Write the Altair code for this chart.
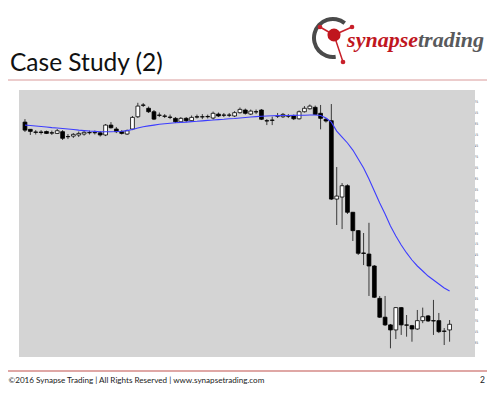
import altair as alt
import pandas as pd

# ---- candle data ----
opens = [1.33991, 1.33945, 1.33928, 1.33928, 1.33931, 1.33923, 1.33919, 1.33930, 1.33899, 1.33902,
         1.33909, 1.33915, 1.33923, 1.33923, 1.33923, 1.33909, 1.33972, 1.33947, 1.33930, 1.33915,
         1.33947, 1.34025, 1.34100, 1.34079, 1.34057, 1.34036, 1.34030, 1.34023, 1.34015, 1.33993,
         1.34015, 1.34000, 1.34025, 1.34025, 1.34027, 1.34017, 1.34042, 1.34036, 1.34036, 1.34030,
         1.34051, 1.34068, 1.34042, 1.34057, 1.34068, 1.34000, 1.34004, 1.34030, 1.34025, 1.34030,
         1.34030, 1.34012, 1.34057, 1.34076, 1.34085, 1.34047, 1.34009, 1.34000, 1.33501, 1.33514,
         1.33586, 1.33417, 1.33300, 1.33158, 1.33151, 1.33075, 1.32869, 1.32749, 1.32700, 1.32668,
         1.32810, 1.32700, 1.32695, 1.32674, 1.32727, 1.32757, 1.32727, 1.32727, 1.32661, 1.32668]
highs = [1.34010, 1.33947, 1.33940, 1.33940, 1.33937, 1.33937, 1.33947, 1.33940, 1.33915, 1.33921,
         1.33931, 1.33934, 1.33937, 1.33937, 1.33934, 1.33979, 1.33991, 1.33960, 1.33940, 1.33944,
         1.34030, 1.34114, 1.34112, 1.34090, 1.34068, 1.34052, 1.34042, 1.34039, 1.34023, 1.34023,
         1.34023, 1.34033, 1.34039, 1.34042, 1.34039, 1.34058, 1.34052, 1.34049, 1.34049, 1.34061,
         1.34084, 1.34077, 1.34071, 1.34071, 1.34074, 1.34010, 1.34026, 1.34049, 1.34049, 1.34042,
         1.34039, 1.34065, 1.34093, 1.34103, 1.34096, 1.34100, 1.34017, 1.34106, 1.33705, 1.33603,
         1.33595, 1.33419, 1.33304, 1.33285, 1.33350, 1.33081, 1.32884, 1.32884, 1.32706, 1.32814,
         1.32814, 1.32763, 1.32700, 1.32795, 1.32810, 1.32763, 1.32859, 1.32776, 1.32680, 1.32731]
lows = [1.33928, 1.33909, 1.33912, 1.33912, 1.33915, 1.33909, 1.33915, 1.33877, 1.33883, 1.33890,
        1.33896, 1.33905, 1.33912, 1.33912, 1.33899, 1.33902, 1.33950, 1.33921, 1.33912, 1.33909,
        1.33940, 1.34017, 1.34087, 1.34049, 1.34004, 1.34023, 1.34017, 1.34010, 1.33985, 1.33988,
        1.33991, 1.33995, 1.34014, 1.34010, 1.34014, 1.34007, 1.34023, 1.34023, 1.34023, 1.34023,
        1.34045, 1.34039, 1.34036, 1.34042, 1.34004, 1.33972, 1.33972, 1.34017, 1.34017, 1.34017,
        1.34004, 1.34007, 1.34052, 1.34071, 1.34036, 1.33945, 1.33988, 1.33495, 1.33336, 1.33310,
        1.33406, 1.33234, 1.33145, 1.33081, 1.32884, 1.32871, 1.32744, 1.32693, 1.32551, 1.32610,
        1.32636, 1.32625, 1.32593, 1.32668, 1.32711, 1.32719, 1.32636, 1.32648, 1.32572, 1.32593]
closes = [1.33940, 1.33932, 1.33926, 1.33925, 1.33919, 1.33921, 1.33936, 1.33888, 1.33898, 1.33913,
          1.33919, 1.33926, 1.33925, 1.33925, 1.33909, 1.33972, 1.33955, 1.33930, 1.33919, 1.33936,
          1.34021, 1.34093, 1.34098, 1.34057, 1.34010, 1.34034, 1.34028, 1.34021, 1.33993, 1.34015,
          1.34000, 1.34021, 1.34023, 1.34024, 1.34025, 1.34047, 1.34030, 1.34035, 1.34035, 1.34051,
          1.34072, 1.34047, 1.34061, 1.34056, 1.34009, 1.33998, 1.34002, 1.34029, 1.34040, 1.34029,
          1.34012, 1.34057, 1.34079, 1.34093, 1.34040, 1.34015, 1.33998, 1.33501, 1.33520, 1.33586,
          1.33417, 1.33300, 1.33156, 1.33155, 1.33075, 1.32876, 1.32749, 1.32700, 1.32668, 1.32810,
          1.32700, 1.32698, 1.32674, 1.32727, 1.32752, 1.32725, 1.32725, 1.32657, 1.32659, 1.32704]
moving_avg = [1.33972, 1.33969, 1.33966, 1.33963, 1.33960, 1.33956, 1.33953, 1.33950, 1.33947, 1.33944,
              1.33940, 1.33937, 1.33934, 1.33932, 1.33930, 1.33930, 1.33930, 1.33931, 1.33933, 1.33937,
              1.33944, 1.33953, 1.33961, 1.33967, 1.33972, 1.33977, 1.33981, 1.33984, 1.33987, 1.33989,
              1.33991, 1.33994, 1.33996, 1.33999, 1.34002, 1.34004, 1.34007, 1.34009, 1.34012, 1.34014,
              1.34017, 1.34020, 1.34023, 1.34026, 1.34028, 1.34030, 1.34031, 1.34032, 1.34033, 1.34033,
              1.34034, 1.34035, 1.34035, 1.34036, 1.34036, 1.34033, 1.34017, 1.33991, 1.33934, 1.33896,
              1.33858, 1.33813, 1.33756, 1.33699, 1.33629, 1.33552, 1.33476, 1.33406, 1.33330, 1.33266,
              1.33209, 1.33158, 1.33113, 1.33075, 1.33043, 1.33011, 1.32986, 1.32960, 1.32935, 1.32916]
price_ticks = [1.34125, 1.34055, 1.33985, 1.33915, 1.33845, 1.33775, 1.33705, 1.33635,
               1.33565, 1.33495, 1.33425, 1.33355, 1.33285, 1.33215, 1.33145, 1.33075,
               1.33005, 1.32935, 1.32865, 1.32795, 1.32725, 1.32655, 1.32585]

title_text = "Case Study (2)"
footer_text = "\u00a92016 Synapse Trading | All Rights Reserved | www.synapsetrading.com"
page_no = "2"

df = pd.DataFrame({"i": list(range(len(opens))), "open": opens, "high": highs,
                   "low": lows, "close": closes, "ma": moving_avg})
one = pd.DataFrame({"k": [0]})

xs = alt.Scale(domain=[-0.18, 79.82], nice=False, zero=False)
ys = alt.Scale(domain=[1.32502, 1.34189], nice=False, zero=False)
price_axis = alt.Axis(
    orient="right", values=price_ticks, format=".5f", title=None, grid=False,
    domainColor="#7a7a7a", domainWidth=1, tickColor="#7a7a7a", tickSize=2,
    labelFontSize=3.6, labelColor="#666666", labelPadding=2, labelFont="DejaVu Sans")

panel = alt.Chart(one).mark_rect(color="#d4d4d4").encode(
    x=alt.value(0), x2=alt.value(456), y=alt.value(-1), y2=alt.value(266))

wicks = alt.Chart(df).mark_rule(color="#3a3a3a", strokeWidth=1).encode(
    x=alt.X("i:Q", scale=xs, axis=None),
    y=alt.Y("low:Q", scale=ys, axis=price_axis),
    y2="high:Q")

bodies = alt.Chart(df).mark_bar(size=3.8, stroke="#000000", strokeWidth=0.8).encode(
    x=alt.X("i:Q", scale=xs, axis=None),
    y=alt.Y("open:Q", scale=ys, axis=price_axis),
    y2="close:Q",
    fill=alt.condition("datum.close < datum.open", alt.value("#000000"), alt.value("#ffffff")))

ma_line = alt.Chart(df).mark_line(color="#3d3dff", strokeWidth=1.1).encode(
    x=alt.X("i:Q", scale=xs, axis=None),
    y=alt.Y("ma:Q", scale=ys, axis=price_axis))

# ---- slide decorations ----
title = alt.Chart(one).mark_text(text=title_text, font="Lato", fontSize=24.5, align="left",
                                 baseline="alphabetic", color="#111111").encode(
    x=alt.value(-9), y=alt.value(-20))
underline = alt.Chart(one).mark_rule(color="#d99a9a", strokeWidth=1).encode(
    x=alt.value(-19), x2=alt.value(477), y=alt.value(-11))

ring = alt.Chart(one).mark_arc(innerRadius=17, outerRadius=21, theta=3.0, theta2=6.95,
                               color="#4a4a4a").encode(x=alt.value(314), y=alt.value(-53))
spokes_x = [301, 333, 324]
spokes_y = [-64, -64, -29]
spokes = alt.layer(*[
    alt.Chart(one).mark_rule(color="#c8202a", strokeWidth=1.5).encode(
        x=alt.value(315), y=alt.value(-56), x2=alt.value(sx), y2=alt.value(sy))
    for sx, sy in zip(spokes_x, spokes_y)])
dots = alt.layer(*[
    alt.Chart(one).mark_circle(color="#c8202a", opacity=1, size=22).encode(
        x=alt.value(sx), y=alt.value(sy))
    for sx, sy in zip(spokes_x, spokes_y)])
ball = alt.Chart(one).mark_circle(color="#c0161e", opacity=1, size=170).encode(
    x=alt.value(315), y=alt.value(-56))
logo1 = alt.Chart(one).mark_text(text="synapse", font="Liberation Sans Narrow", fontSize=22,
                                 fontWeight="bold", fontStyle="italic", align="right",
                                 baseline="alphabetic", color="#c0161e").encode(
    x=alt.value(399), y=alt.value(-44))
logo2 = alt.Chart(one).mark_text(text="trading", font="Liberation Sans Narrow", fontSize=22,
                                 fontWeight="bold", fontStyle="italic", align="left",
                                 baseline="alphabetic", color="#58595b").encode(
    x=alt.value(399), y=alt.value(-44))

footer_line = alt.Chart(one).mark_rule(color="#c0504d", strokeWidth=1.2).encode(
    x=alt.value(-19), x2=alt.value(477), y=alt.value(280))
footer = alt.Chart(one).mark_text(text=footer_text, font="Lato", fontSize=8.1, align="left",
                                  baseline="alphabetic", color="#222222").encode(
    x=alt.value(-10.5), y=alt.value(292))
page = alt.Chart(one).mark_text(text=page_no, font="Lato", fontSize=8.5, align="left",
                                baseline="alphabetic", color="#222222").encode(
    x=alt.value(461), y=alt.value(292))

chart = alt.layer(
    panel, wicks, bodies, ma_line,
    title, underline, ring, spokes, dots, ball, logo1, logo2,
    footer_line, footer, page
).properties(
    width=440, height=265,
    padding={"left": 11, "top": 83, "right": 28, "bottom": 36},
    autosize=alt.AutoSizeParams(type="none"),
    background="#ffffff"
).configure_view(stroke=None)

chart.save("out.html", embed_options={"renderer": "svg", "actions": False})
